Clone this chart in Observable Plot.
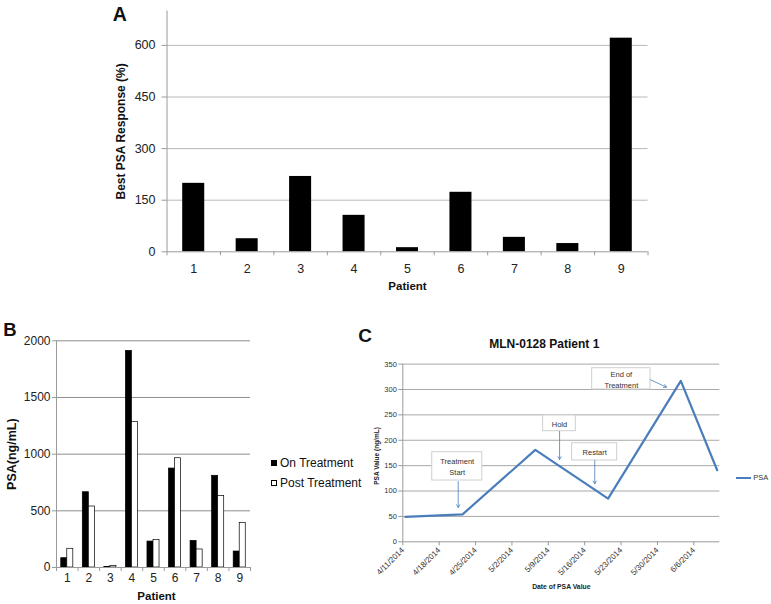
<!DOCTYPE html>
<html><head><meta charset="utf-8">
<script src="https://cdn.jsdelivr.net/npm/d3@7"></script>
<script src="https://cdn.jsdelivr.net/npm/@observablehq/plot@0.6"></script>
<style>
html,body{margin:0;padding:0;background:#fff;}
#root{position:relative;width:771px;height:604px;overflow:hidden;font-family:"Liberation Sans",Arial,Helvetica,sans-serif;color:#111;}
#root svg{position:absolute;left:0;top:0;}
.panel{position:absolute;font-weight:bold;line-height:1;color:#111;}
</style></head><body><div id="root"></div>
<script>
// ---------- Panel A data ----------
const patients = [1, 2, 3, 4, 5, 6, 7, 8, 9];
const bestResponse = [199, 38, 219, 106, 12, 173, 42, 24, 621];
const bestTicks = [0, 150, 300, 450, 600];

// ---------- Panel B data ----------
const seriesNames = ["On Treatment", "Post Treatment"];
const seriesColors = ["#000000", "#ffffff"];
const onTreatment = [82, 664, 5, 1911, 229, 873, 235, 809, 141];
const postTreatment = [165, 538, 12, 1285, 244, 964, 159, 632, 394];
const psaTicks = [0, 500, 1000, 1500, 2000];

// ---------- Panel C data ----------
const psaDates = ["2014-04-11", "2014-04-22", "2014-05-06", "2014-05-20", "2014-06-03", "2014-06-10"];
const psaValues = [49, 54, 181, 85, 317, 141];
const dateTicks = ["2014-04-11", "2014-04-18", "2014-04-25", "2014-05-02", "2014-05-09", "2014-05-16", "2014-05-23", "2014-05-30", "2014-06-06"];
const valueTicks = [0, 50, 100, 150, 200, 250, 300, 350];
const annotationLabels = ["Treatment\nStart", "Hold", "Restart", "End of\nTreatment"];
const annotationBoxes = [
  ["2014-04-16T16:00Z", "2014-04-26T07:00Z", 120.7, 176.5],
  ["2014-05-08T00:00Z", "2014-05-14T07:00Z", 217.8, 248.8],
  ["2014-05-13T14:00Z", "2014-05-22T06:00Z", 160.1, 194.2],
  ["2014-05-17T10:30Z", "2014-05-28T16:00Z", 300.0, 341.9]
];
const annotationArrows = [
  ["2014-04-21T16:00Z", 118.8, "2014-04-21T16:00Z", 67.6],
  ["2014-05-11T04:00Z", 217.3, "2014-05-11T04:00Z", 162.1],
  ["2014-05-17T22:30Z", 160.1, "2014-05-17T22:30Z", 114.2],
  ["2014-05-28T16:00Z", 319.1, "2014-05-31T18:00Z", 304.5]
];

// ---------- layout ----------
const W = 771, H = 604;
const FONT = '"Liberation Sans", Arial, Helvetica, sans-serif';
const AXIS = "#9a9a9a";
const plain = d => String(d);
const root = document.getElementById("root");
const base = (m) => ({width: W, height: H, ...m,
  style: {background: "transparent", overflow: "visible", fontFamily: FONT}});

const xDomain = [patients[0] - 0.5, patients[patients.length - 1] + 0.5];
const boundaries = patients.map(p => p - 0.5).concat(patients[patients.length - 1] + 0.5);

// ---------- Panel A ----------
const dataA = patients.map((p, i) => ({patient: p, value: bestResponse[i]}));
const barHalfA = 0.206;
const plotA = Plot.plot({
  ...base({marginLeft: 166.5, marginRight: 123.5, marginTop: 10.5, marginBottom: 352.7}),
  x: {domain: xDomain, label: null},
  y: {domain: [0, 700], label: null},
  marks: [
    Plot.ruleY(bestTicks.slice(1), {stroke: "#b8b8b8"}),
    Plot.rectY(dataA, {x1: d => d.patient - barHalfA, x2: d => d.patient + barHalfA, y: "value", fill: "#000"}),
    Plot.ruleY([0], {stroke: AXIS}),
    Plot.ruleX([xDomain[0]], {stroke: AXIS}),
    Plot.axisY({ticks: bestTicks, tickFormat: plain, tickSize: 5, tickPadding: 6.5, fontSize: 12.5, stroke: AXIS, fill: "#222", label: null}),
    Plot.axisX({ticks: boundaries, tickSize: 4, tickFormat: () => "", stroke: AXIS, label: null}),
    Plot.axisX({ticks: patients, tickFormat: plain, tickSize: 0, tickPadding: 12, fontSize: 12.5, fill: "#222", label: null}),
    Plot.text(["Best PSA Response (%)"], {text: d => d, frameAnchor: "left", textAnchor: "middle", lineAnchor: "middle", rotate: -90, dx: -45.5, fontSize: 12, fontWeight: "bold", fill: "#111"}),
    Plot.text(["Patient"], {text: d => d, frameAnchor: "bottom", lineAnchor: "middle", dy: 34.4, fontSize: 11.5, fontWeight: "bold", fill: "#111"})
  ]
});
root.appendChild(plotA);

// ---------- Panel B ----------
const dataB = patients.flatMap((p, i) => [
  {patient: p, series: seriesNames[0], value: onTreatment[i]},
  {patient: p, series: seriesNames[1], value: postTreatment[i]}
]);
const barW = 0.28;
const plotB = Plot.plot({
  ...base({marginLeft: 56, marginRight: 521, marginTop: 340.3, marginBottom: 37}),
  x: {domain: xDomain, label: null},
  y: {domain: [0, 2000], label: null},
  color: {domain: seriesNames, range: seriesColors},
  marks: [
    Plot.ruleY(psaTicks.slice(1), {stroke: "#8e8e8e"}),
    Plot.rectY(dataB, {
      x1: d => d.patient + (d.series === seriesNames[0] ? -barW : 0),
      x2: d => d.patient + (d.series === seriesNames[0] ? 0 : barW),
      y: "value", fill: "series", stroke: "#000", strokeWidth: 0.7
    }),
    Plot.ruleY([0], {stroke: AXIS}),
    Plot.ruleX([xDomain[0]], {stroke: AXIS}),
    Plot.axisY({ticks: psaTicks, tickFormat: plain, tickSize: 4, tickPadding: 2, fontSize: 12, stroke: AXIS, fill: "#222", label: null}),
    Plot.axisX({ticks: boundaries, tickSize: 4, tickFormat: () => "", stroke: AXIS, label: null}),
    Plot.axisX({ticks: patients, tickFormat: plain, tickSize: 0, tickPadding: 6, fontSize: 12, fill: "#222", label: null}),
    Plot.text(["PSA(ng/mL)"], {text: d => d, frameAnchor: "left", textAnchor: "middle", lineAnchor: "middle", rotate: -90, dx: -44.3, fontSize: 12.5, fontWeight: "bold", fill: "#111"}),
    Plot.text(["Patient"], {text: d => d, frameAnchor: "bottom", lineAnchor: "middle", dy: 28.7, dx: 3, fontSize: 11.5, fontWeight: "bold", fill: "#111"})
  ]
});
root.appendChild(plotB);

// ---------- Panel C ----------
const dataC = psaDates.map((d, i) => ({date: new Date(d), value: psaValues[i]}));
const cStart = dataC[0].date;
const cEnd = d3.utcDay.offset(dataC[dataC.length - 1].date, 1);
const mC = {marginLeft: 402.3, marginRight: 51.7, marginTop: 363.6, marginBottom: 62.7};
const halfDay = (W - mC.marginLeft - mC.marginRight) / d3.utcDay.count(cStart, cEnd) / 2;
const annots = annotationLabels.map((label, i) => ({
  label,
  x1: new Date(annotationBoxes[i][0]), x2: new Date(annotationBoxes[i][1]),
  y1: annotationBoxes[i][2], y2: annotationBoxes[i][3],
  ax1: new Date(annotationArrows[i][0]), ay1: annotationArrows[i][1],
  ax2: new Date(annotationArrows[i][2]), ay2: annotationArrows[i][3]
}));
const plotC = Plot.plot({
  ...base(mC),
  x: {type: "utc", domain: [cStart, cEnd], label: null},
  y: {domain: [0, 350], label: null},
  marks: [
    Plot.ruleY(valueTicks.slice(1), {stroke: "#a8a8a8"}),
    Plot.ruleY([0], {stroke: AXIS}),
    Plot.ruleX([cStart], {stroke: AXIS}),
    Plot.lineY(dataC, {x: "date", y: "value", stroke: "#4a7ebb", strokeWidth: 2.2, dx: halfDay}),
    Plot.rect(annots, {x1: "x1", x2: "x2", y1: "y1", y2: "y2", fill: "#fff", stroke: "#cfcfcf", strokeWidth: 1}),
    Plot.text(annots, {
      x: d => new Date((+d.x1 + +d.x2) / 2), y: d => (d.y1 + d.y2) / 2,
      text: "label", fontSize: 7.5, lineHeight: 1.42, fill: "#333"
    }),
    Plot.arrow(annots, {x1: "ax1", y1: "ay1", x2: "ax2", y2: "ay2", stroke: "#4a7ebb", strokeWidth: 0.8, headLength: 6}),
    Plot.axisY({ticks: valueTicks, tickFormat: plain, tickSize: 4, tickPadding: 2, fontSize: 7.5, stroke: AXIS, fill: "#333", label: null}),
    Plot.axisX({ticks: dateTicks.map(d => new Date(d)), tickFormat: d3.utcFormat("%-m/%-d/%Y"),
      tickRotate: -45, tickSize: 4, tickPadding: 3, fontSize: 8, stroke: AXIS, fill: "#333", label: null}),
    Plot.text(["MLN-0128 Patient 1"], {text: d => d, frameAnchor: "top", lineAnchor: "middle", dy: -20.3, dx: -17, fontSize: 12, fontWeight: "bold", fill: "#111"}),
    Plot.text(["Date of PSA Value"], {text: d => d, frameAnchor: "bottom", lineAnchor: "middle", dy: 45.4, fontSize: 6.8, fontWeight: "bold", fill: "#222"}),
    Plot.text(["PSA Value (ng/mL)"], {text: d => d, frameAnchor: "left", textAnchor: "middle", lineAnchor: "middle", rotate: -90, dx: -26.3, dy: 3, fontSize: 6.5, fontWeight: "bold", fill: "#222"})
  ]
});
root.appendChild(plotC);

// ---------- legends & panel letters ----------
const legB = document.createElement("div");
legB.style.cssText = "position:absolute;left:270.5px;top:453.2px;font-size:12px;line-height:20px;color:#111;white-space:nowrap;";
seriesNames.forEach((name, i) => {
  const row = document.createElement("div");
  const sw = document.createElement("span");
  sw.style.cssText = `display:inline-block;width:4.5px;height:4.5px;background:${seriesColors[i]};border:0.75px solid #000;vertical-align:middle;margin-right:3px;position:relative;top:-1px;`;
  row.appendChild(sw);
  row.appendChild(document.createTextNode(name));
  legB.appendChild(row);
});
root.appendChild(legB);

const legC = document.createElement("div");
legC.style.cssText = "position:absolute;left:735.7px;top:473.1px;font-size:7.5px;line-height:10px;color:#333;white-space:nowrap;";
const swC = document.createElement("span");
swC.style.cssText = "display:inline-block;width:15.5px;height:2.2px;background:#4a7ebb;vertical-align:middle;margin-right:2px;";
legC.appendChild(swC);
legC.appendChild(document.createTextNode("PSA"));
root.appendChild(legC);

[["A", 112.7, 4.5, 19.5], ["B", 3.3, 321, 18.5], ["C", 358.3, 325.6, 19]].forEach(([t, x, y, s]) => {
  const el = document.createElement("div");
  el.className = "panel";
  el.style.left = x + "px"; el.style.top = y + "px"; el.style.fontSize = s + "px";
  el.textContent = t;
  root.appendChild(el);
});
</script>
</body></html>
